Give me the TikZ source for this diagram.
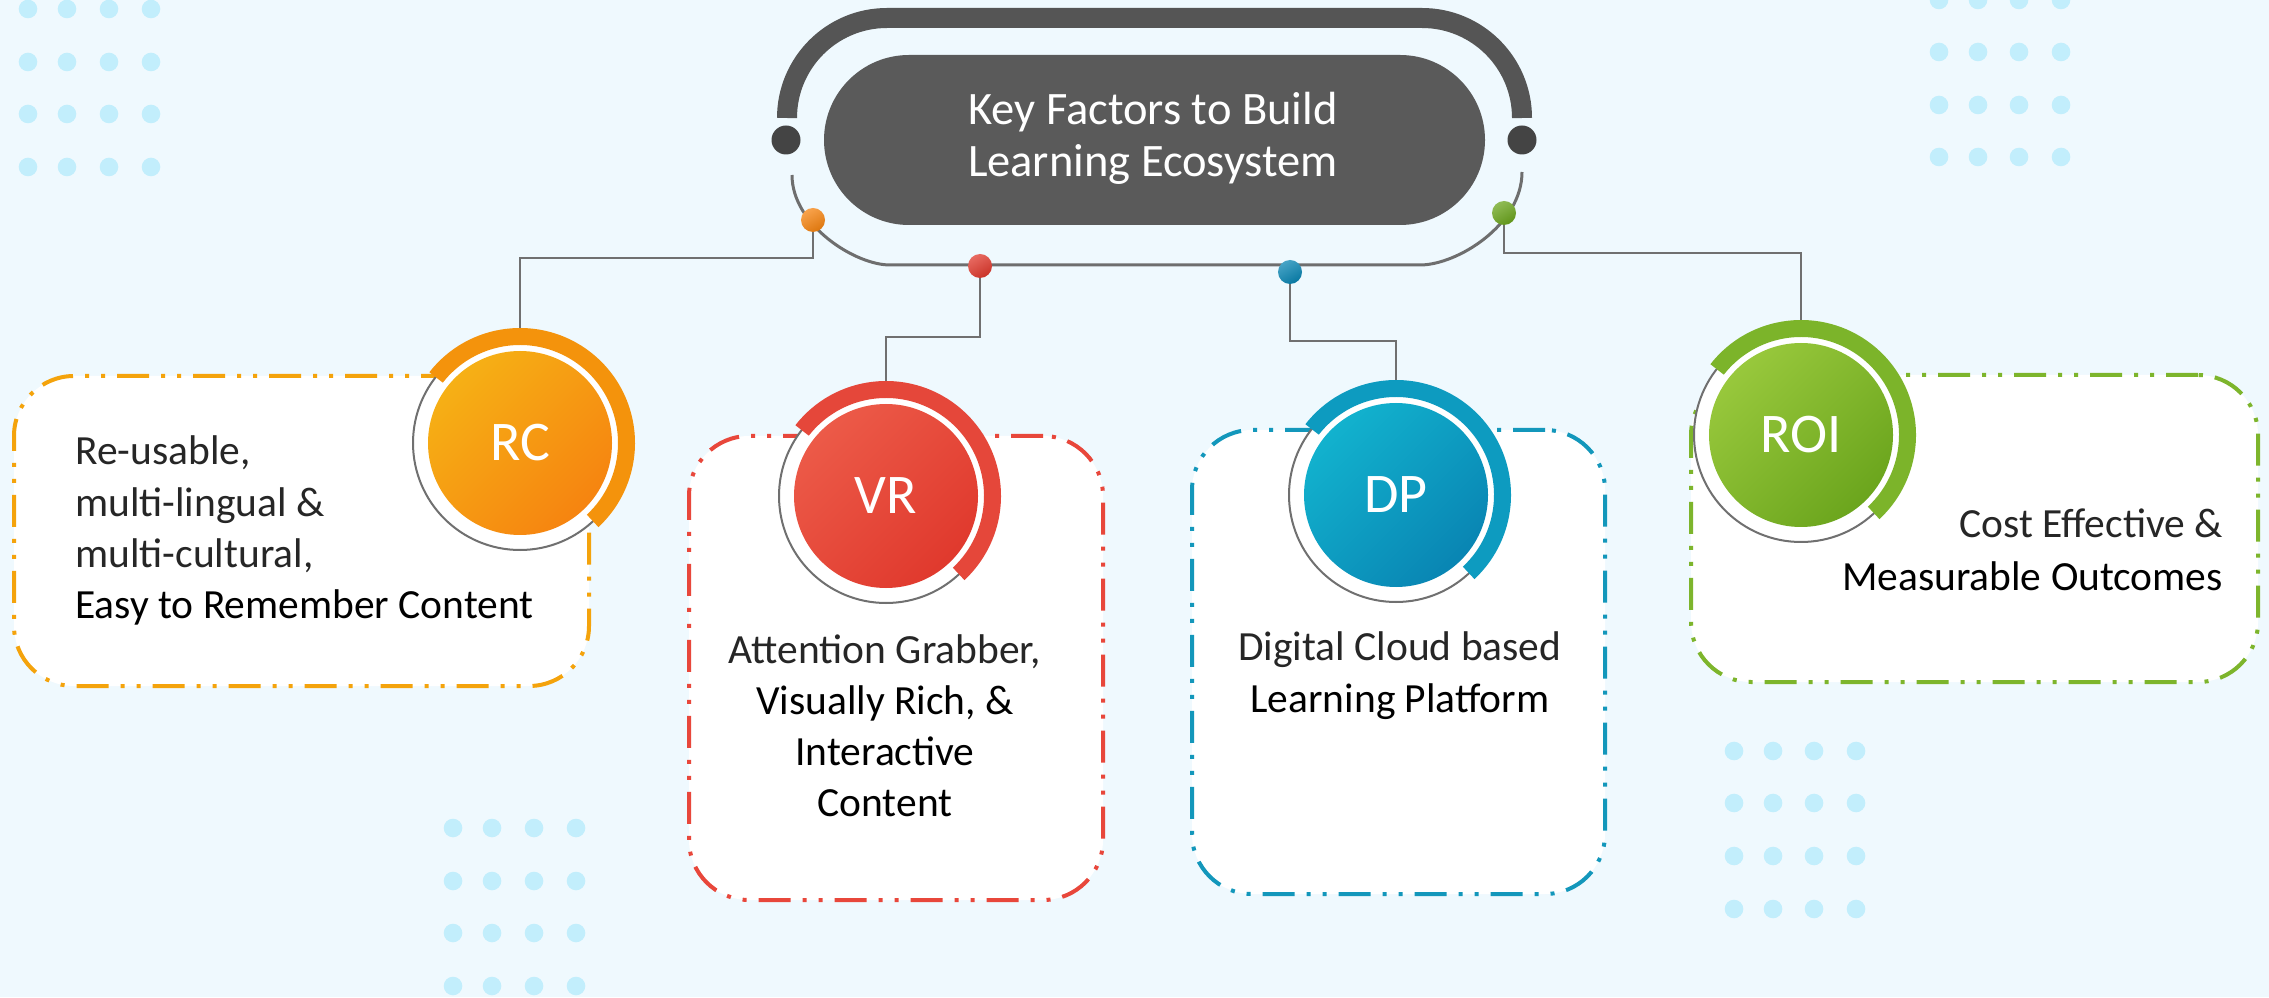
\documentclass[tikz,border=0pt]{standalone}
\usepackage{fontspec}
\setmainfont{Carlito}
\usetikzlibrary{calc}
\pgfdeclarelayer{bg}
\pgfsetlayers{bg,main}
\definecolor{bgc}{HTML}{EFF9FE}
\definecolor{dotc}{HTML}{C2EEFC}
\definecolor{tband}{HTML}{555555}
\definecolor{tpill}{HTML}{5A5A5A}
\definecolor{tdotc}{HTML}{444444}
\definecolor{tline}{HTML}{6E6E6E}
\definecolor{conc}{HTML}{707070}
\definecolor{oA}{HTML}{F6B015}\definecolor{oB}{HTML}{F68410}\definecolor{oBand}{HTML}{F4930C}\definecolor{oBox}{HTML}{F4A30C}
\definecolor{rA}{HTML}{EC5A48}\definecolor{rB}{HTML}{E0392D}\definecolor{rBand}{HTML}{E5473A}\definecolor{rBox}{HTML}{E8473B}
\definecolor{bA}{HTML}{12B2CE}\definecolor{bB}{HTML}{0985B3}\definecolor{bBand}{HTML}{0D9BC0}\definecolor{bBox}{HTML}{1397BB}
\definecolor{gA}{HTML}{98C83C}\definecolor{gB}{HTML}{6BA51D}\definecolor{gBand}{HTML}{7CB42A}\definecolor{gBox}{HTML}{7DB52C}
\newcommand\mkband[2]{\fill[#2] ($(#1)+(142:115)$) arc[start angle=142,end angle=-47,radius=115] -- ($(#1)+(-47:98)$) arc[start angle=-47,end angle=142,radius=98] -- cycle;}
\begin{document}
\begin{tikzpicture}[x=1pt,y=1pt,
  bgdot/.style={fill=dotc},
  conn/.style={draw=conc, line width=2.2pt},
  tdot/.style={circle, fill=tdotc, minimum size=29pt, inner sep=0pt},
  cdot/.style={circle, minimum size=24pt, inner sep=0pt, top color=#1!75!white, bottom color=#1!90!black, shading angle=30},
  card/.style={draw=#1, line width=4pt, fill=white, rounded corners=60pt, inner sep=0pt,
    dash pattern=on 32pt off 12pt on 4pt off 12pt on 4pt off 12pt},
  ring/.style={draw=conc, line width=2pt, fill=white},
  disc/.style={circle, minimum size=184pt, inner sep=0pt, text=white, font=\fontsize{56}{60}\selectfont},
  light/.style={text=black!85, inner sep=0pt, font=\fontsize{41.5}{48}\selectfont},
  reg/.style={text=black, inner sep=0pt, font=\fontsize{41.5}{48}\selectfont},
  ttext/.style={text=white, inner sep=0pt, font=\fontsize{46.5}{52}\selectfont, anchor=base},
]
\useasboundingbox (0,0) rectangle (2269,997);

% ---------- title ----------
\draw[line width=20pt, draw=tband] (787,879) arc[start angle=180,end angle=90,radius=100] -- (1422,979) arc[start angle=90,end angle=0,radius=100];
\node[tdot] (tl) at (786,857) {};
\node[tdot] (tr) at (1522,857) {};
\node[fill=tpill, rounded corners=85pt, minimum width=661pt, minimum height=170pt, inner sep=0pt] (title) at (1154.5,857) {};
\node[ttext] (t1) at (1153,872) {Key Factors to Build};
\node[ttext] (t2) at (1153,820) {Learning Ecosystem};
\draw[line width=3pt, draw=tline] (792,822) .. controls (792,772) and (855,732) .. (890,732) -- (1420,732) .. controls (1457,732) and (1522,772) .. (1522,825);
\node[cdot=oB] (dotO) at (813,777) {};
\node[cdot=rB] (dotR) at (980,731) {};
\node[cdot=bB] (dotB) at (1290,725) {};
\node[cdot=gB] (dotG) at (1504,784) {};

% ---------- cards ----------
\node[card=oBox, minimum width=575pt, minimum height=310pt] (rcbox) at (301.5,466) {};
\node[card=rBox, minimum width=414pt, minimum height=464pt] (vrbox) at (896,329) {};
\node[card=bBox, minimum width=413pt, minimum height=464pt] (dpbox) at (1398.5,335) {};
\node[card=gBox, minimum width=567pt, minimum height=307pt] (roibox) at (1974.5,468.5) {};

% ---------- circles ----------
\coordinate (rcC) at (520,554);
\coordinate (vrC) at (886,501);
\coordinate (dpC) at (1396,502);
\coordinate (roiC) at (1801,562);
\filldraw[ring] (rcC) circle[radius=107];
\mkband{rcC}{oBand}
\node[disc, top color=oA, bottom color=oB, shading angle=45] (rc) at (rcC) {RC};
\filldraw[ring] (vrC) circle[radius=107];
\mkband{vrC}{rBand}
\node[disc, top color=rA, bottom color=rB, shading angle=45] (vr) at (vrC) {VR};
\filldraw[ring] (dpC) circle[radius=107];
\mkband{dpC}{bBand}
\node[disc, top color=bA, bottom color=bB, shading angle=45] (dp) at (dpC) {DP};
\filldraw[ring] (roiC) circle[radius=107];
\mkband{roiC}{gBand}
\node[disc, top color=gA, bottom color=gB, shading angle=45] (roi) at (roiC) {ROI};

% ---------- texts ----------
\node[light, anchor=base west] (rc1) at (75,532) {Re-usable,};
\node[light, anchor=base west] (rc2) at (75,480) {multi-lingual \&};
\node[light, anchor=base west] (rc3) at (75,430) {multi-cultural,};
\node[reg, anchor=base west] (rc4) at (75,379) {Easy to Remember Content};
\node[light, anchor=base] (vr1) at (885,334) {Attention Grabber,};
\node[reg, anchor=base] (vr2) at (885,283) {Visually Rich, \&};
\node[reg, anchor=base] (vr3) at (885,232) {Interactive};
\node[reg, anchor=base] (vr4) at (885,181) {Content};
\node[light, anchor=base] (dp1) at (1400,337) {Digital Cloud based};
\node[reg, anchor=base] (dp2) at (1400,285) {Learning Platform};
\node[light, anchor=base east] (roi1) at (2223,459) {Cost Effective \&};
\node[reg, anchor=base east] (roi2) at (2223,407) {Measurable Outcomes};

% ---------- background layer ----------
\begin{pgfonlayer}{bg}
\fill[bgc] (0,0) rectangle (2269,997);
\foreach \x in {28,67,109,151} \foreach \y in {988,935,883,830} \fill[bgdot] (\x,\y) circle[radius=9.3];
\foreach \x in {1939,1978,2019,2061} \foreach \y in {997,945,892,840} \fill[bgdot] (\x,\y) circle[radius=9.3];
\foreach \x in {453,492,534,576} \foreach \y in {169,116,64,11} \fill[bgdot] (\x,\y) circle[radius=9.3];
\foreach \x in {1734,1773,1814,1856} \foreach \y in {246,194,141,88} \fill[bgdot] (\x,\y) circle[radius=9.3];
\coordinate (kO) at (520,739);
\coordinate (kR) at (886,660);
\coordinate (kB) at (1396,656);
\coordinate (kG) at (1801,744);
\draw[conn] (dotO) |- (kO) -- (rc);
\draw[conn] (dotR) |- (kR) -- (vr);
\draw[conn] (dotB) |- (kB) -- (dp);
\draw[conn] (dotG) |- (kG) -- (roi);
\end{pgfonlayer}
\end{tikzpicture}
\end{document}
